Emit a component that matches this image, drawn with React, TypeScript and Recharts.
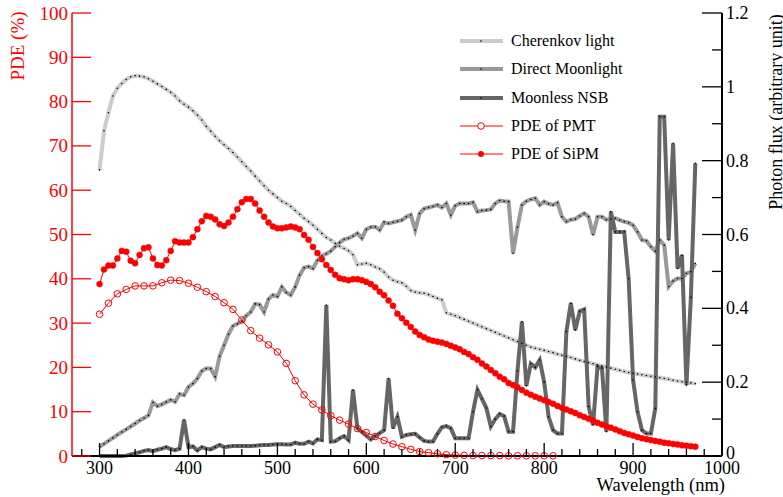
import { LineChart, Line, XAxis, YAxis, Legend } from "recharts";

// wavelength grids (nm)
const WAVELENGTH = Array.from({ length: 135 }, (_, i) => 300 + 5 * i);
const PMT_WAVELENGTH = Array.from({ length: 52 }, (_, i) => 300 + 10 * i);

// photon flux (arbitrary unit), right axis
const CHERENKOV = [
  0.775, 0.881, 0.93, 0.975, 0.996, 1.009, 1.02, 1.027, 1.03, 1.029,
  1.027, 1.022, 1.015, 1.008, 1.001, 0.993, 0.985, 0.975, 0.962, 0.953,
  0.945, 0.935, 0.923, 0.91, 0.893, 0.88, 0.866, 0.854, 0.843, 0.833,
  0.822, 0.81, 0.797, 0.784, 0.772, 0.758, 0.745, 0.732, 0.72, 0.71,
  0.7, 0.69, 0.684, 0.676, 0.665, 0.655, 0.644, 0.635, 0.625, 0.614,
  0.603, 0.592, 0.585, 0.576, 0.568, 0.562, 0.556, 0.545, 0.518, 0.52,
  0.522, 0.518, 0.512, 0.507, 0.498, 0.485, 0.476, 0.472, 0.469, 0.46,
  0.448, 0.444, 0.442, 0.441, 0.437, 0.432, 0.427, 0.423, 0.388, 0.384,
  0.38, 0.375, 0.37, 0.365, 0.36, 0.355, 0.35, 0.345, 0.34, 0.335,
  0.33, 0.325, 0.32, 0.315, 0.31, 0.305, 0.3, 0.295, 0.292, 0.289,
  0.286, 0.283, 0.28, 0.276, 0.273, 0.27, 0.267, 0.263, 0.259, 0.256,
  0.253, 0.25, 0.247, 0.244, 0.241, 0.238, 0.235, 0.232, 0.229, 0.226,
  0.224, 0.222, 0.22, 0.218, 0.216, 0.214, 0.212, 0.21, 0.208, 0.205,
  0.203, 0.201, 0.2, 0.198, 0.196,
];

const MOONLIGHT = [
  0.025, 0.033, 0.041, 0.049, 0.057, 0.065, 0.072, 0.08, 0.088, 0.096,
  0.103, 0.11, 0.145, 0.135, 0.14, 0.146, 0.152, 0.147, 0.168, 0.165,
  0.187, 0.196, 0.21, 0.23, 0.237, 0.237, 0.215, 0.27, 0.3, 0.33,
  0.352, 0.358, 0.365, 0.38, 0.39, 0.412, 0.41, 0.39, 0.425, 0.436,
  0.432, 0.458, 0.443, 0.436, 0.458, 0.49, 0.51, 0.513, 0.508, 0.53,
  0.542, 0.548, 0.555, 0.567, 0.578, 0.587, 0.59, 0.596, 0.603, 0.59,
  0.614, 0.62, 0.621, 0.612, 0.633, 0.63, 0.633, 0.636, 0.639, 0.648,
  0.653, 0.612, 0.657, 0.67, 0.673, 0.676, 0.68, 0.673, 0.684, 0.653,
  0.678, 0.684, 0.684, 0.684, 0.687, 0.662, 0.665, 0.666, 0.668, 0.684,
  0.692, 0.69, 0.689, 0.549, 0.62, 0.68, 0.69, 0.695, 0.698, 0.68,
  0.689, 0.683, 0.68, 0.686, 0.648, 0.635, 0.64, 0.642, 0.65, 0.657,
  0.648, 0.599, 0.648, 0.648, 0.64, 0.642, 0.644, 0.639, 0.635, 0.632,
  0.625, 0.607, 0.585, 0.583, 0.567, 0.555, 0.585, 0.571, 0.459, 0.474,
  0.481, 0.481, 0.495, 0.499, 0.522,
];

const NSB = [
  0, 0, 0, 0, 0, 0, 0.001, 0.004, 0.007, 0.01,
  0.014, 0.016, 0.013, 0.017, 0.02, 0.024, 0.019, 0.016, 0.02, 0.098,
  0.024, 0.026, 0.015, 0.024, 0.02, 0.018, 0.024, 0.03, 0.024, 0.026,
  0.027, 0.027, 0.027, 0.027, 0.027, 0.028, 0.029, 0.03, 0.03, 0.031,
  0.032, 0.032, 0.031, 0.031, 0.036, 0.033, 0.033, 0.039, 0.034, 0.045,
  0.043, 0.409, 0.039, 0.04, 0.048, 0.054, 0.043, 0.179, 0.075, 0.065,
  0.055, 0.045, 0.054, 0.062, 0.07, 0.21, 0.075, 0.106, 0.052, 0.057,
  0.059, 0.06, 0.05, 0.041, 0.039, 0.039, 0.06, 0.078, 0.081, 0.075,
  0.048, 0.048, 0.048, 0.048, 0.12, 0.179, 0.155, 0.13, 0.08, 0.1,
  0.114, 0.108, 0.066, 0.066, 0.23, 0.364, 0.19, 0.25, 0.24, 0.26,
  0.2, 0.106, 0.07, 0.061, 0.061, 0.337, 0.414, 0.341, 0.392, 0.397,
  0.134, 0.084, 0.242, 0.238, 0.066, 0.662, 0.607, 0.607, 0.607, 0.48,
  0.206, 0.12, 0.07, 0.061, 0.061, 0.129, 0.919, 0.919, 0.585, 0.847,
  0.508, 0.544, 0.192, 0.43, 0.793,
];

// PDE (%), left axis
const PDE_PMT = [
  32.0, 34.5, 36.6, 37.6, 38.4, 38.4, 38.4, 39.1, 39.7, 39.6,
  39.0, 38.1, 37.1, 36.0, 34.6, 33.1, 30.7, 28.3, 26.6, 25.1,
  23.5, 20.9, 17.0, 13.8, 11.7, 10.4, 9.1, 8.1, 7.2, 6.2,
  5.3, 4.4, 3.5, 2.7, 2.1, 1.5, 1.0, 0.75, 0.5, 0.3,
  0.2, 0.15, 0.1, 0.1, 0.1, 0.1, 0.05, 0.05, 0.05, 0.05,
  0.05, 0.05,
];

const PDE_SIPM = [
  38.8, 42.1, 43.0, 43.0, 44.6, 46.3, 46.1, 44.1, 43.5, 45.4,
  46.9, 47.1, 44.6, 43.1, 43.0, 44.2, 46.3, 48.5, 48.2, 48.2,
  48.2, 49.4, 51.2, 53.0, 54.2, 54.0, 53.4, 52.3, 51.9, 52.7,
  54.0, 55.7, 57.3, 58.0, 58.0, 57.0, 55.4, 54.0, 52.7, 51.8,
  51.4, 51.4, 51.6, 51.8, 51.6, 51.2, 49.9, 48.8, 47.2, 45.8,
  44.4, 43.1, 42.0, 40.9, 40.1, 39.9, 39.7, 39.9, 39.9, 39.7,
  39.3, 38.8, 38.1, 37.1, 36.3, 35.1, 33.9, 32.1, 31.1, 30.1,
  29.1, 28.1, 27.3, 26.8, 26.3, 26.0, 25.8, 25.6, 25.3, 24.9,
  24.5, 24.1, 23.5, 23.0, 22.3, 21.7, 20.9, 20.2, 19.4, 18.7,
  17.9, 17.3, 16.5, 16.0, 15.5, 14.9, 14.3, 13.8, 13.4, 13.0,
  12.6, 12.2, 11.8, 11.3, 10.9, 10.5, 10.1, 9.7, 9.2, 8.8,
  8.4, 8.0, 7.5, 7.1, 6.7, 6.4, 6.0, 5.6, 5.2, 4.9,
  4.6, 4.3, 4.0, 3.8, 3.6, 3.4, 3.2, 3.0, 2.9, 2.7,
  2.6, 2.4, 2.3, 2.2, 2.1,
];

const X_TICKS = [
  280, 300, 320, 340, 360, 380, 400, 420, 440, 460, 480, 500, 520, 540, 560, 580,
  600, 620, 640, 660, 680, 700, 720, 740, 760, 780, 800, 820, 840, 860, 880, 900,
  920, 940, 960, 980, 1000,
];
const PDE_TICKS = [0, 10, 20, 30, 40, 50, 60, 70, 80, 90, 100];
const FLUX_TICKS = [0, 0.1, 0.2, 0.3, 0.4, 0.5, 0.6, 0.7, 0.8, 0.9, 1, 1.1, 1.2];

const W = 783;
const H = 497;
const LEFT = 72;
const RIGHT = 722;
const TOP = 13;
const BOTTOM = 456;
const FONT = "Liberation Serif, Times New Roman, Tinos, DejaVu Serif, serif";
const RED = "#ff0000";

const toRows = (xs: number[], ys: number[]) => xs.map((wl, i) => ({ wl, v: ys[i] }));
const cherenkovData = toRows(WAVELENGTH, CHERENKOV);
const moonData = toRows(WAVELENGTH, MOONLIGHT);
const nsbData = toRows(WAVELENGTH, NSB);
const pmtData = toRows(PMT_WAVELENGTH, PDE_PMT);
const sipmData = toRows(WAVELENGTH, PDE_SIPM);

const txt = { fontFamily: FONT } as const;

const BottomTick = (p: any) => {
  const v = p.payload.value;
  const major = v % 100 === 0;
  return (
    <g>
      <line x1={p.x} x2={p.x} y1={BOTTOM} y2={BOTTOM - (major ? 13 : 7)} stroke="#000" strokeWidth={1.3} />
      {major && (
        <text x={p.x} y={BOTTOM + 12} textAnchor="middle" dominantBaseline="central" style={txt} fontSize={18} fill="#000">
          {v}
        </text>
      )}
    </g>
  );
};

const TopTick = (p: any) => {
  const major = p.payload.value % 100 === 0;
  return <line x1={p.x} x2={p.x} y1={TOP} y2={TOP + (major ? 12 : 6)} stroke="#000" strokeWidth={1.3} />;
};

const PdeTick = (p: any) => (
  <g>
    <line x1={LEFT} x2={LEFT + 19} y1={p.y} y2={p.y} stroke={RED} strokeWidth={1.3} />
    <text x={LEFT - 4} y={p.y} textAnchor="end" dominantBaseline="central" style={txt} fontSize={19} fill={RED}>
      {p.payload.value}
    </text>
  </g>
);

const FluxTick = (p: any) => {
  const v = p.payload.value;
  const major = Math.round(v * 10) % 2 === 0;
  const label = v.toFixed(1).replace(/\.0$/, "");
  return (
    <g>
      <line x1={RIGHT - (major ? 20 : 10)} x2={RIGHT} y1={p.y} y2={p.y} stroke="#000" strokeWidth={1.3} />
      {major && (
        <text x={RIGHT + 4} y={v === 0 ? p.y - 3 : p.y} textAnchor="start" dominantBaseline="central" style={txt} fontSize={18} fill="#000">
          {label}
        </text>
      )}
    </g>
  );
};

const PdeTitle = () => (
  <text x={17} y={46} transform="rotate(-90 17 46)" textAnchor="middle" dominantBaseline="central" style={txt} fontSize={19} fill={RED}>
    PDE (%)
  </text>
);

const FluxTitle = () => (
  <text x={776} y={112} transform="rotate(-90 776 112)" textAnchor="middle" dominantBaseline="central" style={txt} fontSize={18} fill="#000">
    Photon flux (arbitrary unit)
  </text>
);

const XTitle = () => (
  <text x={725} y={491} textAnchor="end" style={txt} fontSize={18.5} fill="#000">
    Wavelength (nm)
  </text>
);

const LEGEND_ITEMS = [
  { name: "Cherenkov light", color: "#cccccc", width: 4, marker: "dot" },
  { name: "Direct Moonlight", color: "#999999", width: 4, marker: "dot" },
  { name: "Moonless NSB", color: "#666666", width: 4, marker: "dot" },
  { name: "PDE of PMT", color: RED, width: 1, marker: "open" },
  { name: "PDE of SiPM", color: RED, width: 1, marker: "filled" },
];

const LegendBox = () => (
  <div style={{ fontFamily: FONT, fontSize: 16, color: "#000" }}>
    {LEGEND_ITEMS.map((it) => (
      <div key={it.name} style={{ display: "flex", alignItems: "center", height: 28.3 }}>
        <svg width={53} height={14} style={{ display: "block" }}>
          <line x1={2} x2={45} y1={7} y2={7} stroke={it.color} strokeWidth={it.width} />
          {it.marker === "dot" && <circle cx={23} cy={7} r={0.8} fill="#000" />}
          {it.marker === "open" && <circle cx={23} cy={7} r={3.3} fill="#fff" stroke={RED} strokeWidth={1} />}
          {it.marker === "filled" && <circle cx={23} cy={7} r={3} fill={RED} />}
        </svg>
        <span style={{ whiteSpace: "nowrap", lineHeight: "16px" }}>{it.name}</span>
      </div>
    ))}
  </div>
);

const smallDot = { r: 0.8, fill: "#000", stroke: "none", strokeWidth: 0 };

export default function App() {
  return (
    <div style={{ width: W, height: H }}>
      <style>{`body { margin: 0; background: #fff; }`}</style>
      <LineChart width={W} height={H} margin={{ top: TOP, right: 0, bottom: 0, left: 0 }}>
        <XAxis
          dataKey="wl"
          type="number"
          domain={[269, 1000]}
          ticks={X_TICKS}
          interval={0}
          height={H - BOTTOM}
          tick={BottomTick}
          tickLine={false}
          axisLine={{ stroke: "#000", strokeWidth: 2 }}
          label={<XTitle />}
          allowDataOverflow
        />
        <XAxis
          xAxisId="top"
          orientation="top"
          type="number"
          domain={[269, 1000]}
          ticks={X_TICKS}
          interval={0}
          height={0}
          tick={TopTick}
          tickLine={false}
          axisLine={{ stroke: "#000", strokeWidth: 2 }}
          allowDataOverflow
        />
        <YAxis
          yAxisId="pde"
          orientation="left"
          domain={[0, 100]}
          ticks={PDE_TICKS}
          interval={0}
          width={LEFT}
          tick={PdeTick}
          tickLine={false}
          axisLine={{ stroke: RED, strokeWidth: 1.5 }}
          label={<PdeTitle />}
        />
        <YAxis
          yAxisId="flux"
          orientation="right"
          domain={[0, 1.2]}
          ticks={FLUX_TICKS}
          interval={0}
          width={W - RIGHT}
          tick={FluxTick}
          tickLine={false}
          axisLine={{ stroke: "#000", strokeWidth: 2 }}
          label={<FluxTitle />}
        />
        <Legend
          layout="vertical"
          align="center"
          verticalAlign="middle"
          content={<LegendBox />}
          wrapperStyle={{ left: 458, top: 27, width: 200, height: 145 }}
        />
        <Line yAxisId="flux" data={cherenkovData} dataKey="v" name="Cherenkov light" stroke="#cccccc" strokeWidth={4} dot={smallDot} activeDot={false} isAnimationActive={false} />
        <Line yAxisId="flux" data={moonData} dataKey="v" name="Direct Moonlight" stroke="#999999" strokeWidth={4} dot={smallDot} activeDot={false} isAnimationActive={false} />
        <Line yAxisId="flux" data={nsbData} dataKey="v" name="Moonless NSB" stroke="#666666" strokeWidth={4} dot={smallDot} activeDot={false} isAnimationActive={false} />
        <Line yAxisId="pde" data={pmtData} dataKey="v" name="PDE of PMT" stroke={RED} strokeWidth={1} dot={{ r: 3.3, fill: "none", stroke: RED, strokeWidth: 1 }} activeDot={false} isAnimationActive={false} />
        <Line yAxisId="pde" data={sipmData} dataKey="v" name="PDE of SiPM" stroke={RED} strokeWidth={1} dot={{ r: 3, fill: RED, stroke: RED, strokeWidth: 0.5 }} activeDot={false} isAnimationActive={false} />
      </LineChart>
    </div>
  );
}
